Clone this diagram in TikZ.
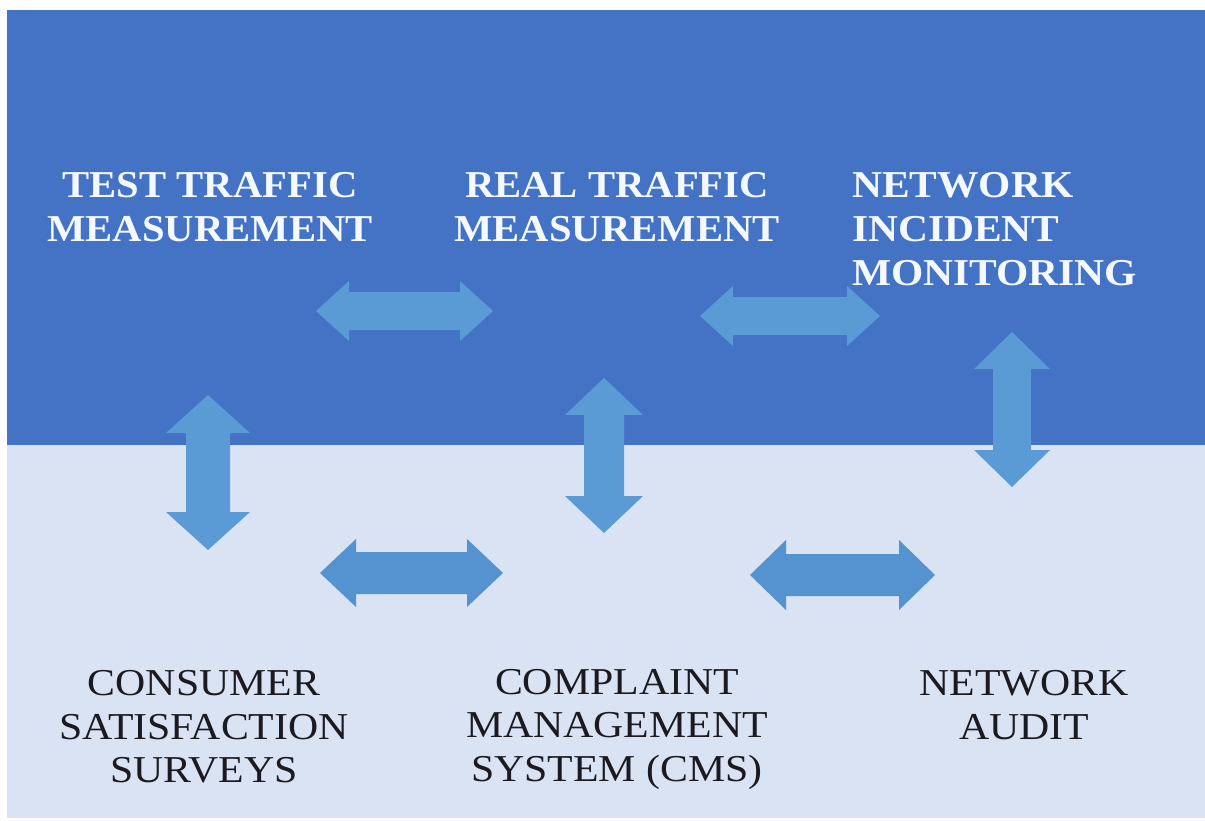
\documentclass[tikz,border=0pt]{standalone}
\usepackage{fontspec}
\setmainfont{Liberation Serif}
\definecolor{topblue}{HTML}{4472C4}
\definecolor{lowpale}{HTML}{DAE3F3}
\definecolor{arrowblue}{HTML}{5B9BD5}
\definecolor{arrowdeep}{HTML}{5592D0}
\definecolor{inkdark}{HTML}{1A1A20}
\definecolor{inklight}{HTML}{F4F8FF}
\tikzset{
  headlabel/.style={font=\fontsize{38}{44}\selectfont\bfseries, text=inklight, inner sep=0pt, xscale=1.07, transform shape},
  footlabel/.style={font=\fontsize{38}{43.5}\selectfont, text=inkdark, inner sep=0pt, xscale=1.1, transform shape},
  arrowfill/.style={fill=arrowblue},
  arrowfilllow/.style={fill=arrowdeep}
}
% horizontal double block arrow: style, left x, right x, centre y, shaft half-height, head half-height, head length
\newcommand{\hdbl}[7]{%
  \fill[#1] (#2,#4) -- (#2+#7,#4-#6) -- (#2+#7,#4-#5) -- (#3-#7,#4-#5) -- (#3-#7,#4-#6) -- (#3,#4)
    -- (#3-#7,#4+#6) -- (#3-#7,#4+#5) -- (#2+#7,#4+#5) -- (#2+#7,#4+#6) -- cycle;}
% vertical double block arrow: centre x, top y, bottom y, shaft half-width, head half-width, head length
\newcommand{\vdbl}[6]{%
  \fill[arrowfill] (#1,#2) -- (#1+#5,#2+#6) -- (#1+#4,#2+#6) -- (#1+#4,#3-#6) -- (#1+#5,#3-#6) -- (#1,#3)
    -- (#1-#5,#3-#6) -- (#1-#4,#3-#6) -- (#1-#4,#2+#6) -- (#1-#5,#2+#6) -- cycle;}
\begin{document}
\begin{tikzpicture}[x=1pt,y=-1pt]
\useasboundingbox (0,0) rectangle (1205,821);
\fill[white] (0,0) rectangle (1205,821);
% two background bands
\fill[topblue] (7,10) rectangle (1205,445);
\fill[lowpale] (7,445) rectangle (1205,818);

% block arrows
\hdbl{arrowfill}{316}{493}{311}{19}{30}{33}
\hdbl{arrowfill}{700}{880}{316}{19}{30}{33}
\vdbl{208}{395}{550}{22}{42}{38}
\vdbl{604}{378}{533}{20}{39}{37}
\vdbl{1012}{332}{487}{19}{38}{37}
\hdbl{arrowfilllow}{320}{503}{573}{21}{34}{36}
\hdbl{arrowfilllow}{750}{935}{575}{21}{35}{36}

% labels
\node[headlabel, align=center] (test) at (210,207) {TEST TRAFFIC\\MEASUREMENT};
\node[headlabel, align=center] (real) at (617,207) {REAL TRAFFIC\\MEASUREMENT};
\node[headlabel, align=left, anchor=west, xscale=1.02] (incident) at (852,229) {NETWORK\\INCIDENT\\MONITORING};
\node[footlabel, align=center] (survey) at (204,727) {CONSUMER\\SATISFACTION\\SURVEYS};
\node[footlabel, align=center] (cms) at (617,729) {COMPLAINT\\MANAGEMENT\\SYSTEM (CMS)};
\node[footlabel, align=center] (audit) at (1024,705) {NETWORK\\AUDIT};
\end{tikzpicture}
\end{document}
